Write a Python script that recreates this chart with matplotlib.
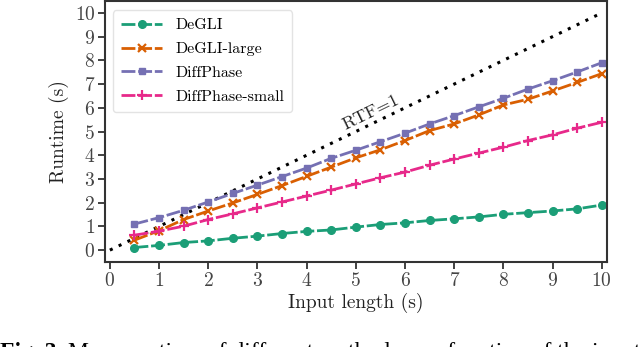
import numpy as np
import matplotlib
matplotlib.use("Agg")
import matplotlib.pyplot as plt

plt.rcParams["font.family"] = "serif"
plt.rcParams["font.serif"] = ["cmr10", "DejaVu Serif"]
plt.rcParams["axes.formatter.use_mathtext"] = True
plt.rcParams["mathtext.fontset"] = "cm"

# input lengths in seconds
lengths = [0.5, 1.0, 1.5, 2.0, 2.5, 3.0, 3.5, 4.0, 4.5, 5.0,
           5.5, 6.0, 6.5, 7.0, 7.5, 8.0, 8.5, 9.0, 9.5, 10.0]

degli = [0.11, 0.20, 0.32, 0.39, 0.50, 0.59, 0.70, 0.79, 0.85, 0.97,
         1.08, 1.15, 1.25, 1.32, 1.40, 1.51, 1.58, 1.65, 1.74, 1.90]
degli_large = [0.42, 0.82, 1.29, 1.65, 1.99, 2.35, 2.72, 3.11, 3.50, 3.89,
               4.23, 4.62, 5.04, 5.32, 5.70, 6.12, 6.36, 6.71, 7.07, 7.44]
diffphase = [1.10, 1.37, 1.68, 2.03, 2.39, 2.74, 3.10, 3.46, 3.87, 4.21,
             4.57, 4.93, 5.32, 5.67, 6.04, 6.40, 6.79, 7.14, 7.51, 7.90]
diffphase_small = [0.63, 0.80, 1.01, 1.29, 1.53, 1.78, 2.03, 2.28, 2.53, 2.79,
                   3.05, 3.29, 3.58, 3.84, 4.09, 4.34, 4.62, 4.86, 5.14, 5.39]

fig = plt.figure(figsize=(6.4, 3.47), dpi=100)
ax = fig.add_axes([0.164, 0.245, 0.784, 0.752])

ax.plot([0, 10], [0, 10], color="black", linestyle=(0, (1, 2.2)), lw=2.2)
ax.text(5.3, 5.8, "RTF=1", rotation=26, ha="center", va="center",
        fontsize=13, color="#222222")

dash = (0, (5, 1))
ax.plot(lengths, degli, color="#1b9e77", ls=dash, lw=2, marker="o", ms=5.5, label="DeGLI")
ax.plot(lengths, degli_large, color="#d95f02", ls=dash, lw=2, marker="x", ms=5.5,
        mew=1.6, label="DeGLI-large")
ax.plot(lengths, diffphase, color="#7570b3", ls=dash, lw=2, marker="s", ms=4.5, label="DiffPhase")
ax.plot(lengths, diffphase_small, color="#e7298a", ls=dash, lw=2, marker="+", ms=7,
        mew=1.6, label="DiffPhase-small")

ax.set_xlim(-0.1, 10.1)
ax.set_ylim(-0.5, 10.5)
ax.set_xticks(range(0, 11))
ax.set_yticks(range(0, 11))
ax.set_xlabel("Input length (s)", fontsize=14, labelpad=2, color="#222222")
ax.set_ylabel("Runtime (s)", fontsize=14, labelpad=4, color="#222222")
ax.tick_params(labelsize=14, length=5, width=1.3, colors="#333333", labelcolor="#444444", pad=2)
for s in ax.spines.values():
    s.set_linewidth(1.5)
    s.set_color("#333333")

leg = ax.legend(loc="upper left", fontsize=11.5, handlelength=2.6, frameon=True,
                borderpad=0.5, labelspacing=0.6, handletextpad=0.8,
                bbox_to_anchor=(0.0, 0.995))
leg.get_frame().set_edgecolor("#dddddd")
leg.get_frame().set_linewidth(1.0)

fig.text(0.0, 0.0135, "Fig. 3:", fontsize=17, fontweight="bold", va="top",
         family="Liberation Serif")
fig.text(0.106, 0.0135, "Mean runtime of different methods as a function of the input",
         fontsize=17, va="top", family="Liberation Serif")

fig.savefig("out.png", dpi=100)
